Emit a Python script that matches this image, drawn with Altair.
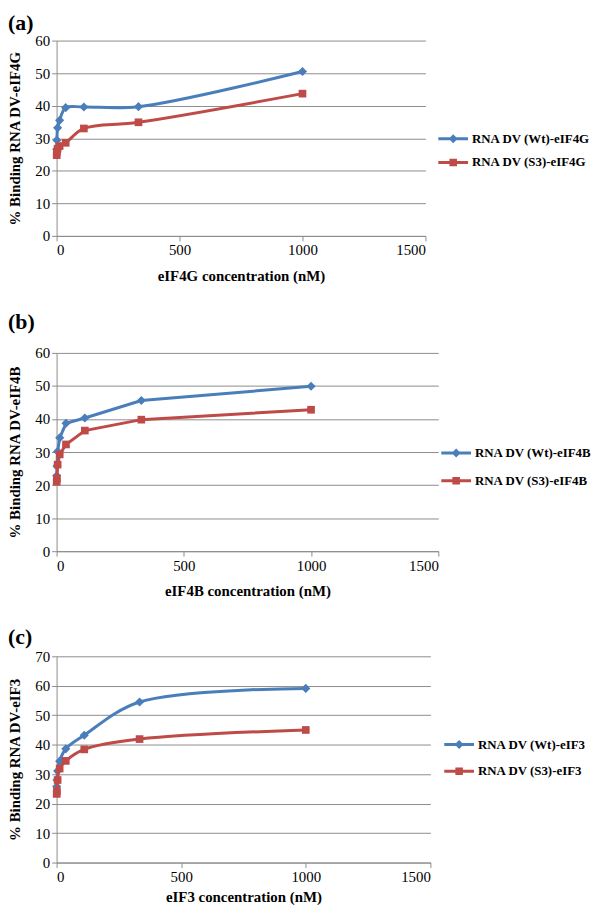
import altair as alt
import pandas as pd

# Concentrations (nM), 3-fold dilution series
conc = [0.46, 1.37, 4.1, 12.3, 37, 111, 333, 1000]

# (a) eIF4G
a_wt = [26.6, 29.4, 33.2, 35.5, 39.4, 39.6, 39.7, 50.5]
a_s3 = [24.8, 25.8, 26.8, 27.6, 28.6, 33.0, 34.9, 43.7]
# (b) eIF4B
b_wt = [22.8, 25.8, 30.2, 34.3, 38.7, 40.3, 45.6, 49.9]
b_s3 = [21.0, 22.0, 26.2, 29.3, 32.3, 36.5, 39.8, 42.8]
# (c) eIF3
c_wt = [25.8, 28.0, 31.1, 34.4, 38.6, 43.2, 54.5, 59.1]
c_s3 = [23.3, 24.2, 28.0, 31.9, 34.5, 38.4, 41.9, 45.0]

x_ticks = [0, 500, 1000, 1500]

BLUE = "#4A7EBB"
RED = "#BE4B48"
GRID = "#8C8C8C"
FONT = "Liberation Serif"

WT_PATH = "M-1.5,-0.15H1.5V0.15H-1.5Z M0,-0.45L0.45,0L0,0.45L-0.45,0Z"
S3_PATH = "M-1.5,-0.15H1.5V0.15H-1.5Z M-0.38,-0.38H0.38V0.38H-0.38Z"

AX = dict(labelFont=FONT, labelFontSize=15, labelColor="black",
          titleFont=FONT, titleFontSize=15, titleFontWeight="bold", titleColor="black",
          domainColor=GRID, tickColor=GRID, gridColor=GRID, tickSize=5,
          labelPadding=2)


def panel(wt, s3, agent, label, ymax, w, h, interp, lx, ly, rp, toff, xtp):
    wt_name = f"RNA DV (Wt)-{agent}"
    s3_name = f"RNA DV (S3)-{agent}"
    df = pd.DataFrame({
        "conc": conc + conc,
        "value": wt + s3,
        "series": [wt_name] * len(conc) + [s3_name] * len(conc),
    })
    x = alt.X("conc:Q",
              scale=alt.Scale(domain=[0, 1500], nice=False, zero=True),
              axis=alt.Axis(values=x_ticks, title=f"{agent} concentration (nM)",
                            format="d", grid=False, titlePadding=xtp, **AX))
    y = alt.Y("value:Q",
              scale=alt.Scale(domain=[0, ymax], nice=False),
              axis=alt.Axis(values=list(range(0, ymax + 1, 10)), format="d",
                            title=f"% Binding RNA DV-{agent}", grid=True,
                            titlePadding=12, **AX))
    base = alt.Chart(df)
    layers = []
    for name, col, shp, sz in [(wt_name, BLUE, "diamond", 85), (s3_name, RED, "square", 60)]:
        f = base.transform_filter(alt.datum.series == name)
        layers.append(f.mark_line(color=col, strokeWidth=3, interpolate=interp).encode(x=x, y=y))
        layers.append(f.mark_point(color=col, filled=True, opacity=1, shape=shp, size=sz)
                      .encode(x=x, y=y))
    leg = alt.Legend(title=None, orient="none", legendX=lx, legendY=ly,
                     symbolSize=400, symbolStrokeWidth=0, symbolOpacity=1,
                     labelFont=FONT, labelFontSize=13, labelFontWeight="bold",
                     labelColor="black", labelOffset=9, rowPadding=rp, padding=0,
                     labelLimit=300)
    legend_layer = base.mark_point(filled=True, opacity=0).encode(
        x=x, y=y,
        color=alt.Color("series:N", scale=alt.Scale(domain=[wt_name, s3_name], range=[BLUE, RED]),
                        legend=leg),
        shape=alt.Shape("series:N", scale=alt.Scale(domain=[wt_name, s3_name],
                                                    range=[WT_PATH, S3_PATH]),
                        legend=leg),
    )
    layers.append(legend_layer)
    return alt.layer(*layers).properties(
        width=w, height=h,
        title=alt.TitleParams(label, anchor="start", frame="bounds", fontSize=22,
                              font=FONT, fontWeight="bold", offset=toff, color="black"),
    )


pa = panel(a_wt, a_s3, "eIF4G", "(a)", 60, 372, 197, "catmull-rom", 390, 89, 7, -1, 11)
pb = panel(b_wt, b_s3, "eIF4B", "(b)", 60, 385, 200, "linear", 393, 91, 11, 12, 11)
pc = panel(c_wt, c_s3, "eIF3", "(c)", 70, 377, 208, "catmull-rom", 396, 79, 10, 0, 5)

chart = alt.vconcat(pa, pb, pc, spacing=28).resolve_scale(
    color="independent", shape="independent"
).properties(padding=0).configure(
    font=FONT,
    style={"guide-label": {"font": FONT}, "guide-title": {"font": FONT}},
).configure_view(stroke=None)

chart.save("out.html", embed_options={"renderer": "svg", "actions": False})
